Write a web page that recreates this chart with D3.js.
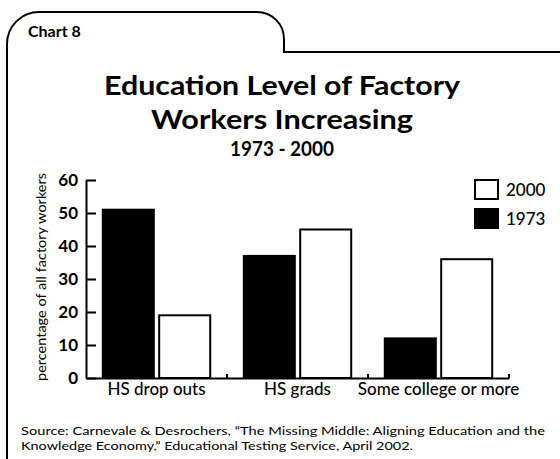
<!DOCTYPE html>
<html>
<head>
<meta charset="utf-8">
<script src="https://cdn.jsdelivr.net/npm/d3@7"></script>
<style>
  body { margin: 0; background: #fff; }
  svg { display: block; font-family: Lato, "Open Sans", sans-serif; }
</style>
</head>
<body>
<div id="chart-area"></div>
<script>
const FIGURE = { WIDTH: 560, HEIGHT: 459 };

// data
const categories = ["HS drop outs", "HS grads", "Some college or more"];
const years = ["1973", "2000"];
const values1973 = [51, 37, 12];
const values2000 = [19, 45, 36];
const yTicks = [0, 10, 20, 30, 40, 50, 60];
const titleLines = ["Education Level of Factory", "Workers Increasing", "1973 - 2000"];
const sourceLines = [
    "Source: Carnevale & Desrochers, \u201CThe Missing Middle: Aligning Education and the",
    "Knowledge Economy,\u201D Educational Testing Service, April 2002."
];

const rows = categories.map((c, i) => ({ cat: c, "1973": values1973[i], "2000": values2000[i] }));

let svg = d3.select("#chart-area")
    .append("svg")
        .attr("width", FIGURE.WIDTH)
        .attr("height", FIGURE.HEIGHT);

// frame with the tab at the top left
svg.append("path")
    .attr("d", "M7,460V44A32,32 0 0 1 39,12H257A27,27 0 0 1 284,39V52H561")
    .attr("fill", "none")
    .attr("stroke", "#000")
    .attr("stroke-width", 2);

svg.append("text")
    .attr("x", 28).attr("y", 37)
    .attr("font-size", 16).attr("font-weight", 700)
    .text("Chart 8");

// title
const titleStyle = [
    { y: 95, size: 27, len: 356 },
    { y: 129, size: 27, len: 262 },
    { y: 156, size: 21, len: 104 }
];
titleLines.forEach((t, i) => {
    svg.append("text")
        .attr("x", 282).attr("y", titleStyle[i].y)
        .attr("text-anchor", "middle")
        .attr("font-size", titleStyle[i].size)
        .attr("font-weight", 700)
        .attr("textLength", titleStyle[i].len)
        .attr("lengthAdjust", "spacingAndGlyphs")
        .text(t);
});

// scales
let x0 = d3.scaleBand()
    .domain(categories)
    .range([86, 509]);

let x1 = d3.scaleBand()
    .domain(years)
    .range([0, x0.bandwidth()])
    .paddingInner(0.06)
    .paddingOuter(0.28);

let y = d3.scaleLinear()
    .domain([0, 60])
    .range([378, 180]);

// bars
const fills = { "1973": "#000", "2000": "#fff" };
let groups = svg.selectAll("g.group")
    .data(rows)
    .enter()
    .append("g")
        .attr("class", "group")
        .attr("transform", d => `translate(${x0(d.cat)},0)`);

groups.selectAll("rect")
    .data(d => years.map(k => ({ key: k, value: d[k] })))
    .enter()
    .append("rect")
        .attr("x", d => x1(d.key) + 1)
        .attr("y", d => y(d.value))
        .attr("width", x1.bandwidth() - 2)
        .attr("height", d => y(0) - y(d.value))
        .attr("fill", d => fills[d.key])
        .attr("stroke", "#000")
        .attr("stroke-width", 2);

// y axis, ticks pointing inward
let yAxis = d3.axisLeft(y)
    .tickValues(yTicks)
    .tickSizeInner(-10)
    .tickSizeOuter(0)
    .tickPadding(8);

let gy = svg.append("g")
    .attr("transform", "translate(86,0)")
    .call(yAxis);
gy.selectAll("path, line").attr("stroke", "#000").attr("stroke-width", 2);
gy.selectAll("text")
    .attr("font-family", "Lato, sans-serif")
    .attr("font-size", 17)
    .attr("font-weight", 700)
    .attr("fill", "#000");

// x axis with category labels
let xAxis = d3.axisBottom(x0)
    .tickSize(0)
    .tickPadding(5);

let gx = svg.append("g")
    .attr("transform", `translate(0,${y(0)})`)
    .call(xAxis);
gx.select("path").attr("stroke", "#000").attr("stroke-width", 2);
gx.selectAll("text")
    .attr("font-family", "Lato, sans-serif")
    .attr("font-size", 17)
    .attr("font-weight", 500)
    .attr("fill", "#000");

// small separators between groups
const bounds = categories.slice(1).map(c => x0(c)).concat([x0.range()[1]]);
gx.selectAll("line.sep")
    .data(bounds)
    .enter()
    .append("line")
        .attr("class", "sep")
        .attr("x1", d => d).attr("x2", d => d)
        .attr("y1", 0).attr("y2", -4)
        .attr("stroke", "#000")
        .attr("stroke-width", 2);

// y axis title
svg.append("text")
    .attr("transform", "translate(46,277) rotate(-90)")
    .attr("text-anchor", "middle")
    .attr("font-size", 13.5)
    .attr("textLength", 208)
    .attr("lengthAdjust", "spacingAndGlyphs")
    .text("percentage of all factory workers");

// legend
const legendYears = ["2000", "1973"];
let legend = svg.selectAll("g.legend")
    .data(legendYears)
    .enter()
    .append("g")
        .attr("class", "legend")
        .attr("transform", (d, i) => `translate(475,${180 + i * 29})`);

legend.append("rect")
    .attr("width", 23).attr("height", 19)
    .attr("fill", d => fills[d])
    .attr("stroke", "#000")
    .attr("stroke-width", 2);

legend.append("text")
    .attr("x", 31).attr("y", 16)
    .attr("font-size", 17)
    .attr("font-weight", 500)
    .text(d => d);

// source note
sourceLines.forEach((t, i) => {
    svg.append("text")
        .attr("x", 21).attr("y", 435 + i * 15)
        .attr("font-size", 12)
        .attr("textLength", i === 0 ? 524 : 392)
        .attr("lengthAdjust", "spacingAndGlyphs")
        .text(t);
});
</script>
</body>
</html>
